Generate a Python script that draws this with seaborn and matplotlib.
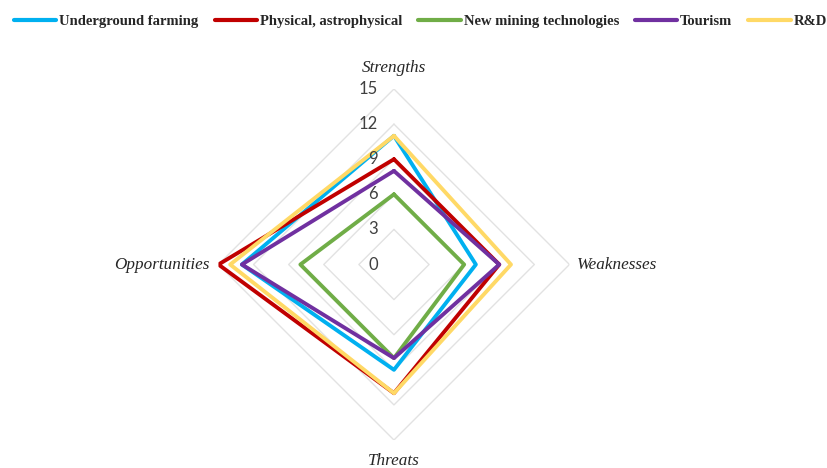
import numpy as np
import pandas as pd
import matplotlib.pyplot as plt
import seaborn as sns

# SWOT radar data
dimensions = ['Strengths', 'Weaknesses', 'Threats', 'Opportunities']
series_names = ['Underground farming', 'Physical, astrophysical',
                'New mining technologies', 'Tourism', 'R&D']
underground_farming = [11, 7, 9, 13]
physical_astro = [9, 9, 11, 15]
new_mining = [6, 6, 8, 8]
tourism = [8, 9, 8, 13]
r_and_d = [11, 10, 11, 14]
tick_values = [0, 3, 6, 9, 12, 15]
colors = ['#00B0F0', '#C00000', '#70AD47', '#7030A0', '#FFD966']

all_values = [underground_farming, physical_astro, new_mining, tourism, r_and_d]
angles = np.linspace(0, 2 * np.pi, len(dimensions), endpoint=False)
closed_angles = np.append(angles, 2 * np.pi)

rows = []
for name, vals in zip(series_names, all_values):
    closed = list(vals) + [vals[0]]
    for a, v in zip(closed_angles, closed):
        rows.append({'theta': a, 'value': v, 'series': name})
df = pd.DataFrame(rows)

sns.set_theme(style='white')
plt.rcParams['font.family'] = ['Liberation Serif', 'DejaVu Serif']

fig = plt.figure(figsize=(8.28, 4.68), dpi=100)
ax = fig.add_axes([0.2638, 0.0598, 0.424, 0.75], projection='polar')
ax.set_theta_offset(np.pi / 2)
ax.set_theta_direction(-1)

# diamond gridlines
for t in tick_values[1:]:
    ax.plot(closed_angles, [t] * len(closed_angles), color='#E2E2E2', lw=1, zorder=0)

sns.lineplot(data=df, x='theta', y='value', hue='series', hue_order=series_names,
             palette=colors, sort=False, estimator=None, lw=2.8, ax=ax)

ax.set_ylim(0, 15)
ax.grid(False)
ax.spines['polar'].set_visible(False)
ax.set_xticks([])
ax.set_yticks([])
ax.set_xlabel('')
ax.set_ylabel('')

for t in tick_values:
    ax.annotate(str(t), xy=(0, t), xytext=(-16, 0), textcoords='offset pixels',
                ha='right', va='center', fontsize=12, family='Lato', color='#404040')

label_offsets = [((0, 21), 'center'), ((7, 0), 'left'), ((0, -21), 'center'), ((-9, 0), 'right')]
for a, lab, (off, ha) in zip(angles, dimensions, label_offsets):
    ax.annotate(lab, xy=(a, 15), xytext=off, textcoords='offset pixels',
                ha=ha, va='center', fontsize=12.3, style='italic', color='#262626')

handles, labels = ax.get_legend_handles_labels()
ax.get_legend().remove()
for h in handles:
    h.set_linewidth(3)
fig.legend(handles, labels, loc='center', bbox_to_anchor=(0.508, 1 - 21 / 468), ncol=5,
           frameon=False, handlelength=2.9, handletextpad=0.2, columnspacing=1.1,
           prop={'weight': 'bold', 'size': 10.5})

fig.savefig('out.png', dpi=100)
